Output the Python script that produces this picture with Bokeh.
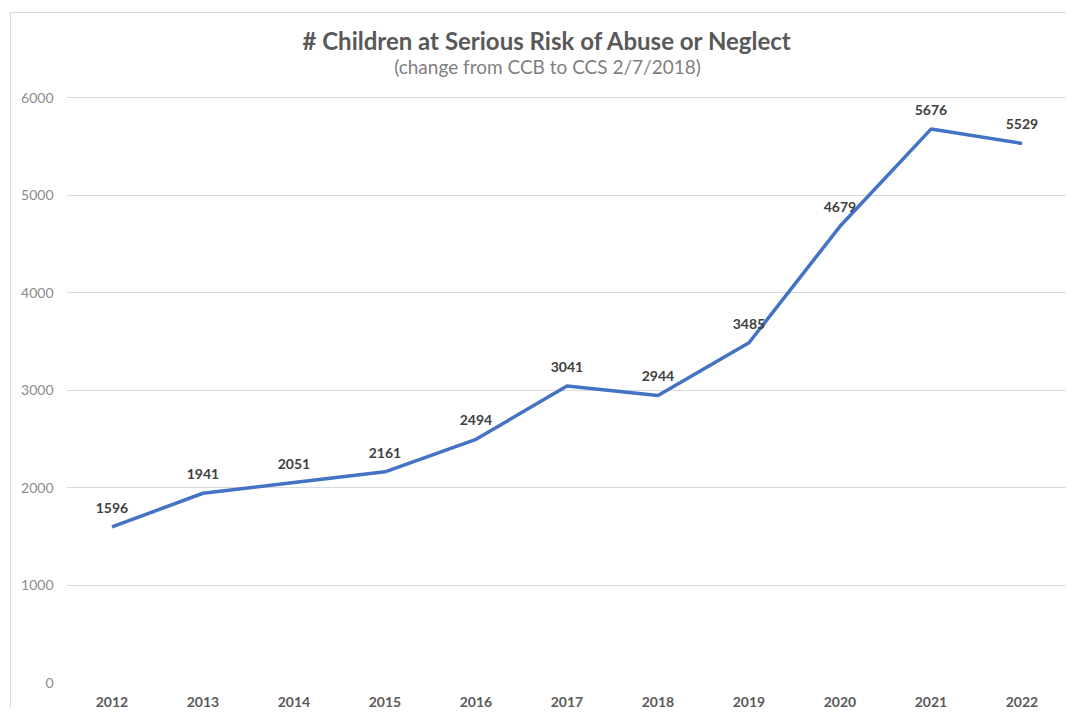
from bokeh.plotting import figure
from bokeh.models import FactorRange, Range1d, ColumnDataSource, LabelSet, Label, FixedTicker
from bokeh.core.properties import value
from bokeh.embed import file_html
from bokeh.resources import INLINE

years = ["2012", "2013", "2014", "2015", "2016", "2017", "2018", "2019", "2020", "2021", "2022"]
children = [1596, 1941, 2051, 2161, 2494, 3041, 2944, 3485, 4679, 5676, 5529]
y_ticks = [0, 1000, 2000, 3000, 4000, 5000, 6000]
title_text = "# Children at Serious Risk of Abuse or Neglect"
subtitle_text = "(change from CCB to CCS 2/7/2018)"

FONT = "Lato"
src = ColumnDataSource(dict(x=years, y=children, lab=[str(v) for v in children]))

# frame spans the full canvas height above the axis; the title area sits above the 6000 line
PLOT_H = 585      # px between 0 and 6000 gridlines
TOP_SPACE = 84    # px above the 6000 gridline for the titles
y_max = 6000 * (PLOT_H + TOP_SPACE) / PLOT_H

p = figure(width=1056, height=696, x_range=FactorRange(*years), y_range=Range1d(0, y_max),
           output_backend="svg", toolbar_location=None,
           min_border_left=55, min_border_right=0, min_border_top=0, min_border_bottom=0,
           styles={"margin-left": "10px", "margin-top": "12px",
                   "border-top": "1px solid #d9d9d9", "border-left": "1px solid #d9d9d9"})
p.x_range.range_padding = 0
p.outline_line_color = None

# screen units are measured from the frame's bottom-left corner
p.add_layout(Label(x=481, y=642, x_units="screen", y_units="screen", text=title_text,
                   text_align="center", text_baseline="middle", text_font=FONT,
                   text_font_size="24px", text_font_style="bold", text_color="#595959"))
p.add_layout(Label(x=481, y=616, x_units="screen", y_units="screen", text=subtitle_text,
                   text_align="center", text_baseline="middle", text_font=FONT,
                   text_font_size="19px", text_color="#7f7f7f"))

p.line("x", "y", source=src, line_color="#4472C4", line_width=3.5)
p.add_layout(LabelSet(x="x", y="y", text="lab", source=src, y_offset=14, text_align="center",
                      text_baseline="bottom", text_font=value(FONT), text_font_size=value("14px"),
                      text_font_style=value("bold"), text_color=value("#404040")))

p.yaxis.ticker = FixedTicker(ticks=y_ticks)
p.yaxis.axis_line_color = None
p.yaxis.major_tick_line_color = None
p.yaxis.minor_tick_line_color = None
p.yaxis.major_label_text_font = FONT
p.yaxis.major_label_text_font_size = "14px"
p.yaxis.major_label_text_color = "#8c8c8c"
p.yaxis.major_label_standoff = 7

p.xaxis.axis_line_color = None
p.xaxis.major_tick_line_color = None
p.xaxis.minor_tick_line_color = None
p.xaxis.major_label_text_font = FONT
p.xaxis.major_label_text_font_size = "14px"
p.xaxis.major_label_text_font_style = "bold"
p.xaxis.major_label_text_color = "#595959"
p.xaxis.major_label_standoff = 8

p.xgrid.grid_line_color = None
p.ygrid.grid_line_color = "#d9d9d9"
p.ygrid.grid_line_width = 1

open("out.html", "w").write(file_html(p, INLINE))
